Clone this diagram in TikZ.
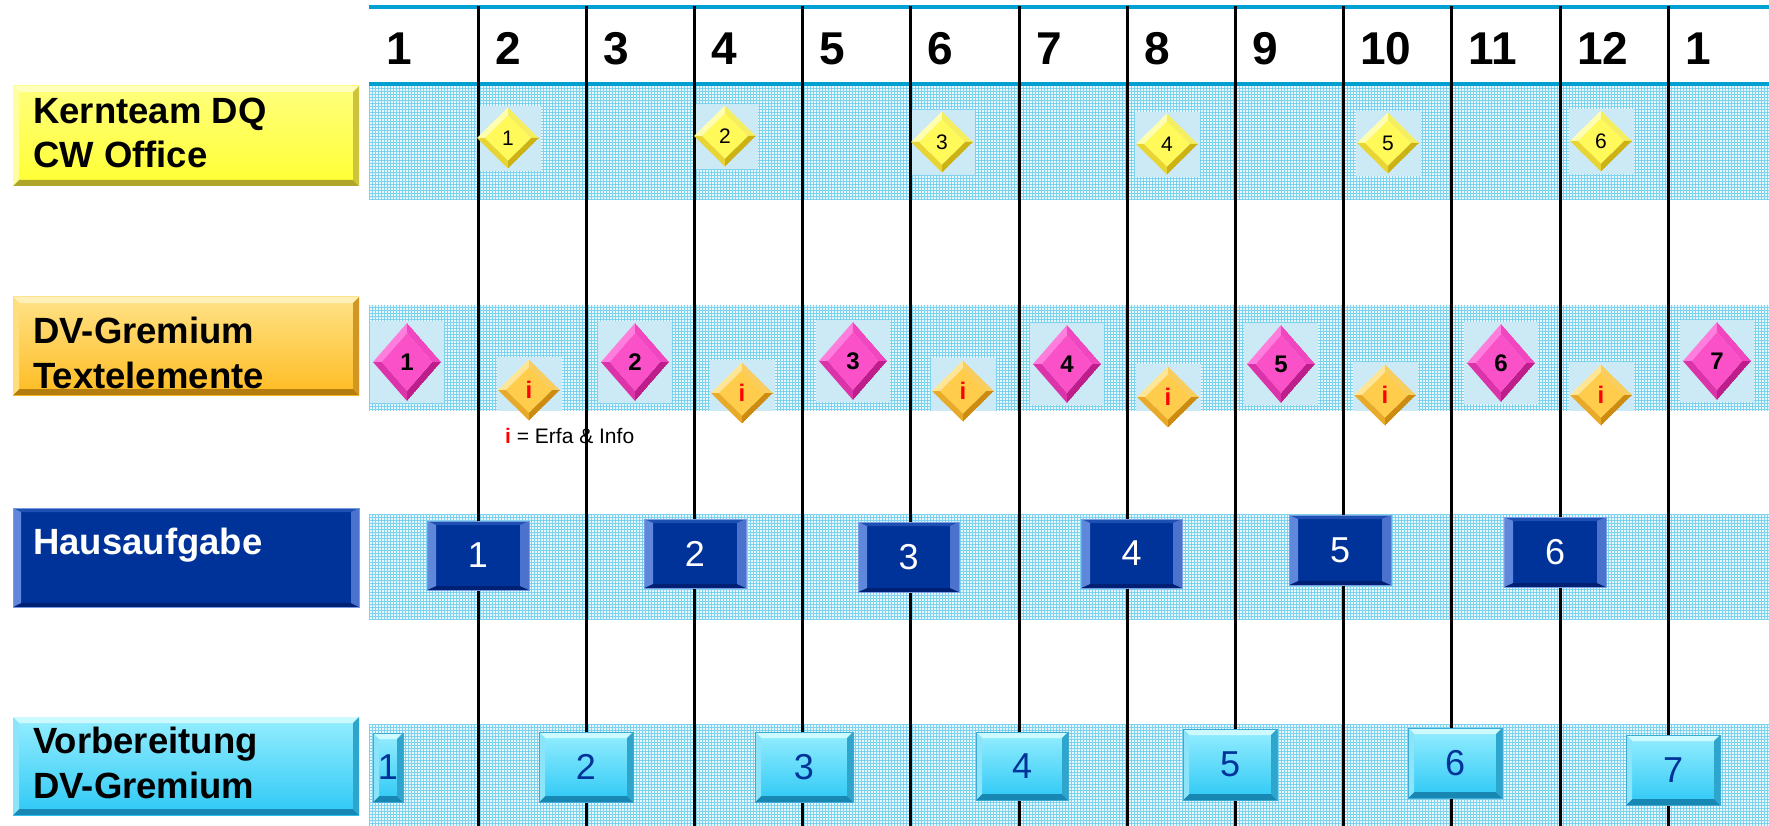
\documentclass[tikz,border=0pt]{standalone}
\usepackage{fontspec}
\setmainfont{Liberation Sans}
\usetikzlibrary{shapes.geometric,patterns,calc}

\pgfdeclarepatternformonly{bgrid}{\pgfqpoint{-1pt}{-1pt}}{\pgfqpoint{4pt}{4pt}}{\pgfqpoint{3pt}{3pt}}{%
  \pgfsetlinewidth{0.7pt}%
  \pgfpathmoveto{\pgfqpoint{0pt}{0pt}}\pgfpathlineto{\pgfqpoint{3.05pt}{0pt}}%
  \pgfpathmoveto{\pgfqpoint{0pt}{0pt}}\pgfpathlineto{\pgfqpoint{0pt}{3.05pt}}%
  \pgfusepath{stroke}}

\definecolor{hdrblue}{RGB}{0,160,210}
\definecolor{bandbase}{RGB}{232,247,252}
\definecolor{bandgridc}{RGB}{125,210,238}
\definecolor{sqbg}{RGB}{204,234,245}
% label boxes
\definecolor{ylT}{RGB}{255,255,125}\definecolor{ylB}{RGB}{255,255,50}
\definecolor{ylTop}{RGB}{255,255,190}\definecolor{ylBot}{RGB}{175,165,40}
\definecolor{ylL}{RGB}{255,255,160}\definecolor{ylR}{RGB}{205,195,60}
\definecolor{olT}{RGB}{255,226,135}\definecolor{olB}{RGB}{255,188,35}
\definecolor{olTop}{RGB}{255,240,185}\definecolor{olBot}{RGB}{180,125,15}
\definecolor{olL}{RGB}{255,222,125}\definecolor{olR}{RGB}{210,150,35}
\definecolor{navy}{RGB}{0,51,153}
\definecolor{nvTop}{RGB}{30,80,180}\definecolor{nvBot}{RGB}{0,32,115}
\definecolor{nvL}{RGB}{95,135,220}\definecolor{nvR}{RGB}{75,115,205}
\definecolor{nvEdge}{RGB}{120,155,225}
\definecolor{cyT}{RGB}{150,238,255}\definecolor{cyB}{RGB}{45,200,245}
\definecolor{cyTop}{RGB}{205,250,255}\definecolor{cyBot}{RGB}{25,135,180}
\definecolor{cyL}{RGB}{140,228,250}\definecolor{cyR}{RGB}{45,165,205}
\definecolor{cyEdge}{RGB}{60,170,210}
% gems
\definecolor{pF}{RGB}{250,80,200}\definecolor{pTL}{RGB}{255,125,220}
\definecolor{pTR}{RGB}{240,70,192}\definecolor{pBL}{RGB}{220,50,170}
\definecolor{pBR}{RGB}{190,30,140}
\definecolor{yF}{RGB}{255,250,90}\definecolor{yTL}{RGB}{255,255,175}
\definecolor{yTR}{RGB}{245,238,95}\definecolor{yBL}{RGB}{232,212,50}
\definecolor{yBR}{RGB}{205,178,20}
\definecolor{oF}{RGB}{255,205,75}\definecolor{oTL}{RGB}{255,230,150}
\definecolor{oTR}{RGB}{250,205,95}\definecolor{oBL}{RGB}{232,170,40}
\definecolor{oBR}{RGB}{205,140,15}

\newcommand\fsz[1]{\fontsize{#1pt}{#1pt}\selectfont}

\tikzset{
  bevel/.style n args={6}{path picture={
    \coordinate (bNW) at (path picture bounding box.north west);
    \coordinate (bNE) at (path picture bounding box.north east);
    \coordinate (bSW) at (path picture bounding box.south west);
    \coordinate (bSE) at (path picture bounding box.south east);
    \fill[#3] (bNW) -- (bNE) -- ([xshift=-#1,yshift=-#2]bNE) -- ([xshift=#1,yshift=-#2]bNW) -- cycle;
    \fill[#4] (bSW) -- (bSE) -- ([xshift=-#1,yshift=#2]bSE) -- ([xshift=#1,yshift=#2]bSW) -- cycle;
    \fill[#5] (bNW) -- (bSW) -- ([xshift=#1,yshift=#2]bSW) -- ([xshift=#1,yshift=-#2]bNW) -- cycle;
    \fill[#6] (bNE) -- (bSE) -- ([xshift=-#1,yshift=#2]bSE) -- ([xshift=-#1,yshift=-#2]bNE) -- cycle;
  }},
  gem/.style n args={5}{shape=diamond, inner sep=0pt, outer sep=0pt, path picture={
    \coordinate (gN) at (path picture bounding box.north);
    \coordinate (gS) at (path picture bounding box.south);
    \coordinate (gE) at (path picture bounding box.east);
    \coordinate (gW) at (path picture bounding box.west);
    \coordinate (gC) at (path picture bounding box.center);
    \coordinate (gn) at ($(gC)!0.74!(gN)$);
    \coordinate (gs) at ($(gC)!0.74!(gS)$);
    \coordinate (ge) at ($(gC)!0.74!(gE)$);
    \coordinate (gw) at ($(gC)!0.74!(gW)$);
    \fill[#1] (gN) -- (gW) -- (gw) -- (gn) -- cycle;
    \fill[#2] (gN) -- (gE) -- (ge) -- (gn) -- cycle;
    \fill[#3] (gS) -- (gW) -- (gw) -- (gs) -- cycle;
    \fill[#4] (gS) -- (gE) -- (ge) -- (gs) -- cycle;
    \fill[#5] (gn) -- (ge) -- (gs) -- (gw) -- cycle;
  }},
  ygem/.style={gem={yTL}{yTR}{yBL}{yBR}{yF}, minimum width=62pt, minimum height=61pt, font=\fsz{21}},
  pgem/.style={gem={pTL}{pTR}{pBL}{pBR}{pF}, minimum width=68pt, minimum height=78pt, font=\fsz{24}\bfseries},
  ogem/.style={gem={oTL}{oTR}{oBL}{oBR}{oF}, minimum width=62pt, minimum height=61pt, font=\fsz{24}\bfseries, text=red},
  labY/.style={rectangle, inner sep=0pt, outer sep=0pt, top color=ylT, bottom color=ylB, bevel={6pt}{6pt}{ylTop}{ylBot}{ylL}{ylR}},
  labO/.style={rectangle, inner sep=0pt, outer sep=0pt, top color=olT, bottom color=olB, bevel={6pt}{6pt}{olTop}{olBot}{olL}{olR}},
  labN/.style={rectangle, inner sep=0pt, outer sep=0pt, fill=navy, draw=nvEdge, line width=0.8pt, bevel={8pt}{4pt}{nvTop}{nvBot}{nvL}{nvR}},
  labC/.style={rectangle, inner sep=0pt, outer sep=0pt, top color=cyT, bottom color=cyB, bevel={6pt}{6pt}{cyTop}{cyBot}{cyL}{cyR}},
  navybox/.style={rectangle, inner sep=0pt, outer sep=0pt, fill=navy, draw=nvEdge, line width=0.8pt, bevel={9pt}{4pt}{nvTop}{nvBot}{nvL}{nvR}, text=white, font=\fsz{36}},
  cyanbox/.style={rectangle, inner sep=0pt, outer sep=0pt, top color=cyT, bottom color=cyB, draw=cyEdge, line width=0.8pt, bevel={6pt}{6pt}{cyTop}{cyBot}{cyL}{cyR}, text=navy, font=\fsz{36}},
  hdr/.style={anchor=base west, inner sep=0pt, font=\fsz{46}\bfseries},
  lbl/.style={anchor=base west, inner sep=0pt, font=\fsz{36.5}\bfseries},
  vline/.style={line width=3pt, black},
  hdrline/.style={line width=3.2pt, hdrblue},
}

\newcommand\mkbox[7]{%
  \pgfmathsetmacro\mbcx{(#2+#4)/2}\pgfmathsetmacro\mbcy{(#3+#5)/2}%
  \pgfmathsetmacro\mbw{#4-#2}\pgfmathsetmacro\mbh{#5-#3}%
  \node[#6, minimum width=\mbw pt, minimum height=\mbh pt] (#1) at (\mbcx,\mbcy) {#7};}

\begin{document}
\begin{tikzpicture}[x=1pt,y=-1pt]
\useasboundingbox (0,0) rectangle (1769,826);
\fill[white] (0,0) rectangle (1769,826);

% bands
\foreach \ya/\yb in {85/200, 305/410, 514/619, 724/826} {
  \fill[bandbase] (369,\ya) rectangle (1769,\yb);
  \fill[pattern=bgrid, pattern color=bandgridc] (369,\ya) rectangle (1769,\yb);
}

% light squares behind gems
\begin{scope}
  \clip (369,85) rectangle (1769,200);
  \foreach \x/\y in {508/138,725/136,942/142,1167/144,1388/143,1601/141}
    \fill[sqbg] ({\x-32},{\y-32}) rectangle ({\x+33},{\y+33});
\end{scope}
\begin{scope}
  \clip (369,305) rectangle (1769,410);
  \foreach \x/\y in {407/362,635/362,853/361,1067/364,1281/364,1501/363,1717/361}
    \fill[sqbg] ({\x-37},{\y-41}) rectangle ({\x+37},{\y+41});
  \foreach \x/\y in {529/390,742/393,963/391,1168/397,1385/395,1601/395}
    \fill[sqbg] ({\x-32},{\y-33}) rectangle ({\x+33},{\y+33});
\end{scope}

% header lines
\draw[hdrline] (369,7) -- (1769,7);
\draw[hdrline] (369,84) -- (1769,84);

% vertical month lines
\foreach \x in {478,586,694,802,910,1019,1127,1235,1343,1451,1560,1668}
  \draw[vline] (\x,6) -- (\x,826);

% header numbers
\foreach \x/\t [count=\i] in {386/1,495/2,603/3,711/4,819/5,927/6,1036/7,1144/8,1252/9,1360/10,1468/11,1577/12,1685/1}
  \node[hdr] (h\i) at (\x,65) {\t};

% row 1: yellow gems
\foreach \x/\y [count=\i] in {508/138,725/136,942/142,1167/144,1388/143,1601/141}
  \node[ygem] (y\i) at (\x,\y) {\i};

% row 2: pink and orange gems
\foreach \x/\y [count=\i] in {407/362,635/362,853/361,1067/364,1281/364,1501/363,1717/361}
  \node[pgem] (p\i) at (\x,\y) {\i};
\foreach \x/\y [count=\i] in {529/390,742/393,963/391,1168/397,1385/395,1601/395}
  \node[ogem] (o\i) at (\x,\y) {i};

\node[anchor=base west, inner sep=0pt, font=\fsz{21}] (legend) at (505,443)
  {\textcolor{red}{\bfseries i} = Erfa \& Info};

% row 3: navy boxes
\mkbox{n1}{427}{521}{529}{590}{navybox}{1}
\mkbox{n2}{644}{519}{746}{588}{navybox}{2}
\mkbox{n3}{858}{522}{959}{592}{navybox}{3}
\mkbox{n4}{1081}{519}{1182}{588}{navybox}{4}
\mkbox{n5}{1289}{515}{1391}{585}{navybox}{5}
\mkbox{n6}{1504}{517}{1606}{587}{navybox}{6}

% row 4: cyan boxes
\mkbox{c1}{373}{733}{403}{802}{cyanbox}{1}
\mkbox{c2}{539}{732}{633}{802}{cyanbox}{2}
\mkbox{c3}{755}{732}{853}{802}{cyanbox}{3}
\mkbox{c4}{976}{732}{1068}{800}{cyanbox}{4}
\mkbox{c5}{1183}{729}{1277}{800}{cyanbox}{5}
\mkbox{c6}{1408}{728}{1502}{798}{cyanbox}{6}
\mkbox{c7}{1626}{735}{1720}{805}{cyanbox}{7}

% left labels
\mkbox{lab1}{13}{86}{359}{186}{labY}{}
\mkbox{lab2}{13}{297}{359}{395}{labO}{}
\mkbox{lab3}{13}{508}{359}{607}{labN}{}
\mkbox{lab4}{13}{717}{359}{815}{labC}{}

\node[lbl] (t1a) at (33,124) {Kernteam DQ};
\node[lbl] (t1b) at (33,168) {CW Office};
\node[lbl] (t2a) at (33,343) {DV-Gremium};
\node[lbl] (t2b) at (33,388) {Textelemente};
\node[lbl, text=white] (t3a) at (33,554) {Hausaufgabe};
\node[lbl] (t4a) at (33,753) {Vorbereitung};
\node[lbl] (t4b) at (33,798) {DV-Gremium};
\end{tikzpicture}
\end{document}
